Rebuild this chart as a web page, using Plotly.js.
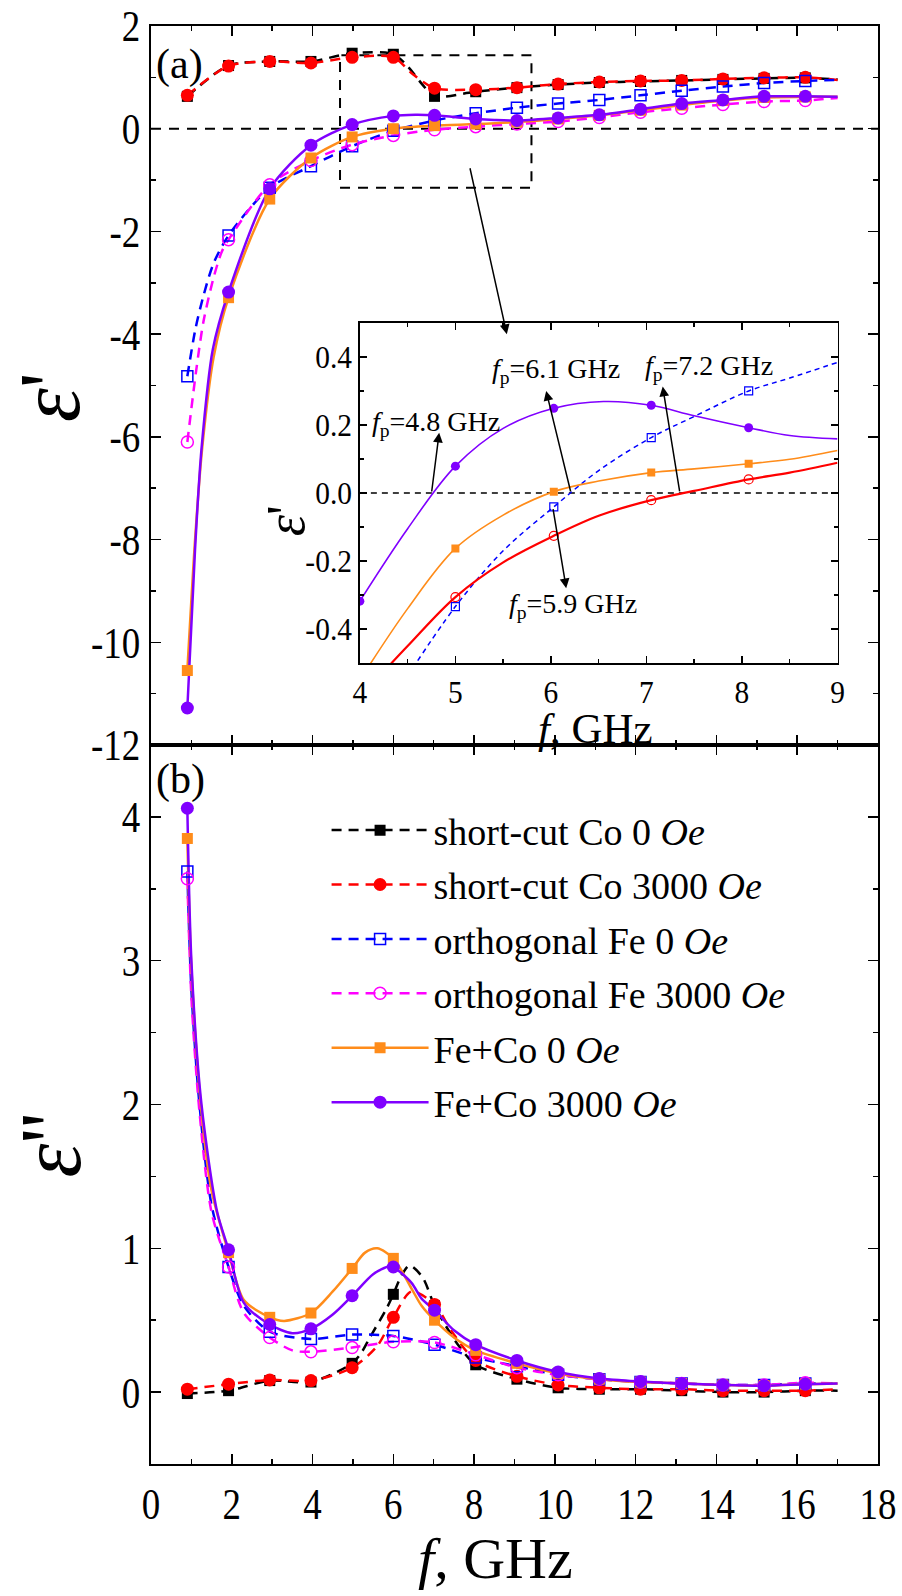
<!DOCTYPE html>
<html><head><meta charset="utf-8">
<script src="https://cdn.plot.ly/plotly-3.0.1.min.js"></script>
<style>html,body{margin:0;padding:0;background:#fff}</style>
</head><body>
<div id="chart" style="width:902px;height:1596px"></div>
<script>
// ---------- DATA ----------
const fMark = [0.9,1.92,2.94,3.96,4.98,6.0,7.02,8.04,9.06,10.08,11.1,12.12,13.14,14.16,15.18,16.2];

// (a) eps' marker values
const epsR_Co0    = [0.63,1.23,1.31,1.31,1.47,1.45,0.63,0.72,0.80,0.86,0.90,0.92,0.94,0.96,0.98,0.99];
const epsR_Co3000 = [0.65,1.22,1.31,1.28,1.39,1.39,0.79,0.76,0.80,0.87,0.91,0.93,0.94,0.97,0.99,1.00];
const epsR_Fe0    = [-4.82,-2.08,-1.15,-0.73,-0.34,-0.04,0.16,0.30,0.41,0.49,0.56,0.65,0.74,0.82,0.89,0.93];
const epsR_Fe3000 = [-6.10,-2.16,-1.09,-0.62,-0.31,-0.13,-0.02,0.04,0.09,0.14,0.22,0.32,0.40,0.47,0.53,0.55];
const epsR_FC0    = [-10.55,-3.29,-1.37,-0.57,-0.16,0.00,0.06,0.09,0.13,0.19,0.26,0.36,0.46,0.55,0.61,0.62];
const epsR_FC3000 = [-11.28,-3.18,-1.17,-0.32,0.08,0.25,0.26,0.19,0.16,0.21,0.27,0.38,0.49,0.56,0.63,0.63];

// (a) eps' curves
const cR_Co0_x    = [0.9,1.92,2.94,3.96,4.98,6.0,6.37,6.72,7.02,8.04,9.06,10.08,11.1,12.12,13.14,14.16,15.18,16.2,17.0];
const cR_Co0_y    = [0.63,1.23,1.31,1.31,1.47,1.45,1.20,0.86,0.63,0.72,0.80,0.86,0.90,0.92,0.94,0.96,0.98,0.99,0.96];
const cR_Co3000_x = [0.9,1.92,2.94,3.96,4.98,6.0,6.5,7.02,8.04,9.06,10.08,11.1,12.12,13.14,14.16,15.18,16.2,17.0];
const cR_Co3000_y = [0.65,1.22,1.31,1.28,1.39,1.39,1.05,0.79,0.76,0.80,0.87,0.91,0.93,0.94,0.97,0.99,1.00,0.95];
const cR_Fe0_x    = [0.9,1.1,1.3,1.55,1.92,2.94,3.96,4.98,6.0,7.02,8.04,9.06,10.08,11.1,12.12,13.14,14.16,15.18,16.2,17.0];
const cR_Fe0_y    = [-4.82,-3.9,-3.25,-2.62,-2.08,-1.15,-0.73,-0.34,-0.04,0.16,0.30,0.41,0.49,0.56,0.65,0.74,0.82,0.89,0.93,0.95];
const cR_Fe3000_x = [0.9,1.12,1.3,1.55,1.75,1.92,2.94,3.96,4.98,6.0,7.02,8.04,9.06,10.08,11.1,12.12,13.14,14.16,15.18,16.2,17.0];
const cR_Fe3000_y = [-6.10,-4.7,-3.75,-2.9,-2.4,-2.16,-1.09,-0.62,-0.31,-0.13,-0.02,0.04,0.09,0.14,0.22,0.32,0.40,0.47,0.53,0.55,0.60];
const cR_FC0_x    = [0.9,1.1,1.27,1.55,1.92,2.94,3.96,4.98,6.0,7.02,8.04,9.06,10.08,11.1,12.12,13.14,14.16,15.18,16.2,17.0];
const cR_FC0_y    = [-10.55,-7.9,-6.2,-4.45,-3.29,-1.37,-0.57,-0.16,0.00,0.06,0.09,0.13,0.19,0.26,0.36,0.46,0.55,0.61,0.62,0.62];
const cR_FC3000_x = [0.9,1.09,1.25,1.53,1.92,2.94,3.96,4.98,6.0,6.55,7.02,8.04,8.5,9.06,10.08,11.1,12.12,13.14,14.16,15.18,16.2,17.0];
const cR_FC3000_y = [-11.28,-8.2,-6.24,-4.3,-3.18,-1.17,-0.32,0.08,0.25,0.27,0.26,0.19,0.17,0.16,0.21,0.27,0.38,0.49,0.56,0.63,0.63,0.62];

// (b) eps'' marker values
const epsI_Co0    = [-0.01,0.01,0.08,0.07,0.20,0.68,0.60,0.19,0.09,0.03,0.02,0.02,0.01,0.00,0.00,0.01];
const epsI_Co3000 = [0.02,0.055,0.085,0.08,0.17,0.52,0.61,0.22,0.11,0.05,0.03,0.02,0.02,0.01,0.01,0.01];
const epsI_Fe0    = [3.62,0.87,0.42,0.37,0.40,0.39,0.33,0.24,0.18,0.12,0.09,0.07,0.06,0.05,0.05,0.06];
const epsI_Fe3000 = [3.57,0.87,0.38,0.28,0.31,0.35,0.345,0.26,0.17,0.12,0.09,0.07,0.06,0.05,0.05,0.065];
const epsI_FC0    = [3.85,0.97,0.52,0.55,0.86,0.93,0.50,0.29,0.20,0.13,0.09,0.07,0.06,0.05,0.045,0.055];
const epsI_FC3000 = [4.06,0.99,0.47,0.44,0.67,0.87,0.57,0.33,0.22,0.14,0.095,0.074,0.06,0.05,0.045,0.055];

// (b) eps'' curves
const cI_Co0_x    = [0.9,1.92,2.94,3.96,4.98,5.2,5.42,5.83,6.0,6.2,6.4,6.72,7.02,7.3,7.6,8.04,9.06,10.08,11.1,12.12,13.14,14.16,15.18,16.2,17.0];
const cI_Co0_y    = [-0.01,0.01,0.08,0.07,0.20,0.27,0.38,0.58,0.68,0.81,0.88,0.80,0.60,0.46,0.33,0.19,0.09,0.03,0.02,0.02,0.01,0.00,0.00,0.01,0.01];
const cI_Co3000_x = [0.9,1.92,2.94,3.96,4.98,5.6,6.0,6.45,7.02,7.45,8.04,9.06,10.08,11.1,12.12,13.14,14.16,15.18,16.2,17.0];
const cI_Co3000_y = [0.02,0.055,0.085,0.08,0.17,0.32,0.52,0.70,0.61,0.42,0.22,0.11,0.05,0.03,0.02,0.02,0.01,0.01,0.01,0.02];
const cI_Fe0_x    = [0.9,1.0,1.2,1.5,1.92,2.3,2.94,3.96,4.98,6.0,7.02,8.04,9.06,10.08,11.1,12.12,13.14,14.16,15.18,16.2,17.0];
const cI_Fe0_y    = [3.62,2.8,2.0,1.3,0.87,0.6,0.42,0.37,0.40,0.39,0.33,0.24,0.18,0.12,0.09,0.07,0.06,0.05,0.05,0.06,0.06];
const cI_Fe3000_x = [0.9,1.0,1.2,1.5,1.92,2.3,2.94,3.5,3.96,4.98,6.0,7.02,8.04,9.06,10.08,11.1,12.12,13.14,14.16,15.18,16.2,17.0];
const cI_Fe3000_y = [3.57,2.75,1.95,1.25,0.87,0.55,0.38,0.29,0.28,0.31,0.35,0.345,0.26,0.17,0.12,0.09,0.07,0.06,0.05,0.05,0.065,0.06];
const cI_FC0_x    = [0.9,1.0,1.25,1.5,1.92,2.3,2.94,3.3,3.96,4.5,4.98,5.3,5.6,6.0,6.45,6.7,7.02,7.5,8.04,9.06,10.08,11.1,12.12,13.14,14.16,15.18,16.2,17.0];
const cI_FC0_y    = [3.85,2.95,1.95,1.4,0.97,0.64,0.52,0.495,0.55,0.70,0.86,0.97,1.0,0.93,0.72,0.60,0.50,0.38,0.29,0.20,0.13,0.09,0.07,0.06,0.05,0.045,0.055,0.06];
const cI_FC3000_x = [0.9,1.0,1.25,1.64,1.92,2.3,2.94,3.5,3.96,4.5,4.98,5.5,5.9,6.0,6.45,6.7,7.02,7.5,8.04,9.06,10.08,11.1,12.12,13.14,14.16,15.18,16.2,17.0];
const cI_FC3000_y = [4.06,3.0,2.0,1.25,0.99,0.62,0.47,0.41,0.44,0.54,0.67,0.82,0.875,0.87,0.76,0.65,0.57,0.43,0.33,0.22,0.14,0.095,0.074,0.06,0.05,0.045,0.055,0.06];

// inset (eps', 4-9 GHz)
const inMarkX = [5.0,6.03,7.05,8.07];
const inPurpleMarkX = [4.0,5.0,6.03,7.05,8.07];
const inPurpleMark = [-0.318,0.079,0.249,0.258,0.192];
const inOrangeMark = [-0.163,0.004,0.06,0.086];
const inBlueMark   = [-0.334,-0.041,0.163,0.30];
const inRedMark    = [-0.306,-0.126,-0.021,0.04];
const inPurple_x = [4.0,4.5,5.0,5.5,6.03,6.55,7.05,7.5,8.07,8.5,9.0];
const inPurple_y = [-0.318,-0.105,0.079,0.19,0.249,0.269,0.258,0.227,0.192,0.169,0.159];
const inOrange_x = [4.0,4.5,5.0,5.5,6.03,6.5,7.05,7.5,8.07,8.5,9.0];
const inOrange_y = [-0.55,-0.34,-0.163,-0.065,0.004,0.035,0.06,0.071,0.086,0.099,0.125];
const inBlue_x   = [4.45,5.0,5.5,6.03,6.5,7.05,7.5,8.07,8.5,9.0];
const inBlue_y   = [-0.56,-0.334,-0.17,-0.041,0.066,0.163,0.225,0.30,0.338,0.384];
const inRed_x    = [4.2,4.5,5.0,5.5,6.03,6.5,7.05,7.5,8.07,8.5,9.0];
const inRed_y    = [-0.54,-0.45,-0.306,-0.204,-0.126,-0.067,-0.021,0.006,0.04,0.06,0.089];

// tick labels
const xTickVals = [0,2,4,6,8,10,12,14,16,18];
const xTickText = ['0','2','4','6','8','10','12','14','16','18'];
const yTopTickVals = [2,0,-2,-4,-6,-8,-10,-12];
const yTopTickText = ['2','0','-2','-4','-6','-8','-10','-12'];
const yBotTickVals = [0,1,2,3,4];
const yBotTickText = ['0','1','2','3','4'];
const inXTickVals = [4,5,6,7,8,9];
const inXTickText = ['4','5','6','7','8','9'];
const inYTickVals = [-0.4,-0.2,0,0.2,0.4];
const inYTickText = ['-0.4','-0.2','0.0','0.2','0.4'];

const seriesNames = ['short-cut Co 0 <i>Oe</i>','short-cut Co 3000 <i>Oe</i>','orthogonal Fe 0 <i>Oe</i>',
                     'orthogonal Fe 3000 <i>Oe</i>','Fe+Co 0 <i>Oe</i>','Fe+Co 3000 <i>Oe</i>'];

// ---------- STYLE ----------
const F = 'Liberation Serif';
const DASH = '10px,7px';
const styles = [
  {color:'#000000', dash:DASH, symbol:'square', size:11},
  {color:'#ff0000', dash:DASH, symbol:'circle', size:13},
  {color:'#0000ff', dash:DASH, symbol:'square-open', size:11},
  {color:'#ff00ff', dash:DASH, symbol:'circle-open', size:12},
  {color:'#ff8c1a', dash:'solid', symbol:'square', size:11},
  {color:'#8000ff', dash:'solid', symbol:'circle', size:13}
];

const topCurves = [[cR_Co0_x,cR_Co0_y],[cR_Co3000_x,cR_Co3000_y],[cR_Fe0_x,cR_Fe0_y],[cR_Fe3000_x,cR_Fe3000_y],[cR_FC0_x,cR_FC0_y],[cR_FC3000_x,cR_FC3000_y]];
const topMarks = [epsR_Co0,epsR_Co3000,epsR_Fe0,epsR_Fe3000,epsR_FC0,epsR_FC3000];
const botCurves = [[cI_Co0_x,cI_Co0_y],[cI_Co3000_x,cI_Co3000_y],[cI_Fe0_x,cI_Fe0_y],[cI_Fe3000_x,cI_Fe3000_y],[cI_FC0_x,cI_FC0_y],[cI_FC3000_x,cI_FC3000_y]];
const botMarks = [epsI_Co0,epsI_Co3000,epsI_Fe0,epsI_Fe3000,epsI_FC0,epsI_FC3000];

function markerOf(s){
  const open = s.symbol.indexOf('open')>=0;
  return {symbol:s.symbol, size:s.size, color: s.color, line:{color:s.color, width: open?1.5:0}};
}

const traces = [];
for (let i=0;i<6;i++){
  const s = styles[i];
  traces.push({x:topCurves[i][0], y:topCurves[i][1], xaxis:'x2', yaxis:'y', mode:'lines', showlegend:false,
    line:{color:s.color, width:2.5, dash:s.dash, shape:'spline', smoothing:0.8}, hoverinfo:'skip'});
  traces.push({x:botCurves[i][0], y:botCurves[i][1], xaxis:'x', yaxis:'y2', mode:'lines', showlegend:false,
    line:{color:s.color, width:2.5, dash:s.dash, shape:'spline', smoothing:0.8}, hoverinfo:'skip'});
}
for (let i=0;i<6;i++){
  const s = styles[i];
  traces.push({x:fMark, y:topMarks[i], xaxis:'x2', yaxis:'y', mode:'markers', showlegend:false, marker:markerOf(s), cliponaxis:false});
  traces.push({x:fMark, y:botMarks[i], xaxis:'x', yaxis:'y2', mode:'markers', showlegend:false, marker:markerOf(s), cliponaxis:false});
}
// legend entries
for (let i=0;i<6;i++){
  const s = styles[i];
  traces.push({x:[null], y:[null], xaxis:'x', yaxis:'y2', mode:'lines+markers', name:seriesNames[i], legendgroup:'g'+i,
    line:{color:s.color, width:2.5, dash:s.dash}, marker:markerOf(s)});
}
// inset
const inCurves = [
  {x:inBlue_x, y:inBlue_y, c:'#0000ff', w:1.5, dash:'5px,4px'},
  {x:inRed_x, y:inRed_y, c:'#ff0000', w:2.2, dash:'solid'},
  {x:inOrange_x, y:inOrange_y, c:'#ff8c1a', w:1.6, dash:'solid'},
  {x:inPurple_x, y:inPurple_y, c:'#8000ff', w:1.6, dash:'solid'}
];
inCurves.forEach(c=>traces.push({x:c.x, y:c.y, xaxis:'x3', yaxis:'y3', mode:'lines', showlegend:false,
  line:{color:c.c, width:c.w, dash:c.dash, shape:'spline', smoothing:1.0}}));
traces.push({x:inMarkX, y:inBlueMark, xaxis:'x3', yaxis:'y3', mode:'markers', showlegend:false,
  marker:{symbol:'square-open', size:8, color:'#0000ff', line:{color:'#0000ff', width:1.2}}});
traces.push({x:inMarkX, y:inRedMark, xaxis:'x3', yaxis:'y3', mode:'markers', showlegend:false,
  marker:{symbol:'circle-open', size:9, color:'#ff0000', line:{color:'#ff0000', width:1.2}}});
traces.push({x:inMarkX, y:inOrangeMark, xaxis:'x3', yaxis:'y3', mode:'markers', showlegend:false,
  marker:{symbol:'square', size:8, color:'#ff8c1a'}});
traces.push({x:inPurpleMarkX, y:inPurpleMark, xaxis:'x3', yaxis:'y3', mode:'markers', showlegend:false,
  marker:{symbol:'circle', size:9, color:'#8000ff'}});

function ax(extra){
  return Object.assign({showline:true, linecolor:'black', linewidth:2, mirror:'ticks', ticks:'inside',
    ticklen:10, tickwidth:1.5, tickcolor:'black', showgrid:false, zeroline:false, tickmode:'array',
    tickfont:{family:F, size:44, color:'black'}}, extra);
}
function minor(d, len){ return {tickmode:'linear', tick0:0, dtick:d, ticks:'inside', ticklen:len||5, tickwidth:1.5, tickcolor:'black', showgrid:false}; }

const annFont = {family:F, size:28, color:'black'};
function arrow(xh,yh,xt,yt,xr,yr){
  return {x:xh, y:yh, ax:xt, ay:yt, xref:xr, yref:yr, axref:xr, ayref:yr, text:'', showarrow:true,
    arrowhead:2, arrowsize:1.3, arrowwidth:1.5, arrowcolor:'black', standoff:0, startstandoff:0};
}

const layout = {
  width:902, height:1596,
  margin:{l:151, r:24, t:26, b:132},
  paper_bgcolor:'white', plot_bgcolor:'white',
  font:{family:F, color:'black'},
  showlegend:true,
  legend:{x:0.2415, y:0.4625, xanchor:'left', yanchor:'top', bgcolor:'rgba(0,0,0,0)',
    font:{family:F, size:38, color:'black'}, itemwidth:97, traceorder:'grouped', tracegroupgap:2},
  xaxis: ax({domain:[0,1], anchor:'y2', range:[0,18], tickvals:xTickVals, ticktext:xTickText, minor:minor(1)}),
  xaxis2: ax({domain:[0,1], anchor:'y', range:[0,18], tickvals:xTickVals, showticklabels:false, minor:minor(1)}),
  yaxis: ax({domain:[0.5,1], anchor:'x2', range:[-12,2], tickvals:yTopTickVals, ticktext:yTopTickText, minor:minor(1)}),
  yaxis2: ax({domain:[0,0.5], anchor:'x', range:[-0.5,4.5], tickvals:yBotTickVals, ticktext:yBotTickText, minor:minor(0.5)}),
  xaxis3: ax({domain:[0.2873,0.9443], anchor:'y3', range:[4,9], tickvals:inXTickVals, ticktext:inXTickText,
    linewidth:1.5, ticklen:7, tickwidth:1.2, tickfont:{family:F, size:32, color:'black'}, minor:minor(0.5,4)}),
  yaxis3: ax({domain:[0.5570,0.7935], anchor:'x3', range:[-0.5,0.5], tickvals:inYTickVals, ticktext:inYTickText,
    linewidth:1.5, ticklen:7, tickwidth:1.2, tickfont:{family:F, size:32, color:'black'}, minor:minor(0.1,4)}),
  shapes:[
    {type:'line', xref:'x2', yref:'y', x0:0, x1:18, y0:0, y1:0, layer:'below', line:{color:'black', width:2, dash:'10px,8px'}},
    {type:'rect', xref:'x2', yref:'y', x0:4.68, x1:9.42, y0:-1.15, y1:1.43, layer:'below', line:{color:'black', width:2, dash:'10px,8px'}},
    {type:'line', xref:'x3', yref:'y3', x0:4, x1:9, y0:0, y1:0, layer:'below', line:{color:'black', width:1.5, dash:'6px,5px'}}
  ],
  annotations:[
    {text:'(a)', xref:'paper', yref:'paper', x:0.004, y:0.991, xanchor:'left', yanchor:'top', showarrow:false, font:{family:F, size:42}},
    {text:'(b)', xref:'paper', yref:'paper', x:0.004, y:0.494, xanchor:'left', yanchor:'top', showarrow:false, font:{family:F, size:42}},
    {text:'<i>f</i>, GHz', xref:'paper', yref:'paper', x:0.474, y:-0.0655, xanchor:'center', yanchor:'middle', showarrow:false, font:{family:F, size:58}},
    {text:"<i>ε</i>'", xref:'paper', yref:'paper', x:-0.139, y:0.742, xanchor:'center', yanchor:'middle', textangle:-90, showarrow:false, font:{family:F, size:86}},
    {text:"<i>ε</i>''", xref:'paper', yref:'paper', x:-0.138, y:0.222, xanchor:'center', yanchor:'middle', textangle:-90, showarrow:false, font:{family:F, size:86}},
    {text:'<i>f</i>, GHz', xref:'paper', yref:'paper', x:0.612, y:0.5115, xanchor:'center', yanchor:'middle', showarrow:false, font:{family:F, size:43}},
    {text:"<i>ε</i>'", xref:'paper', yref:'paper', x:0.186, y:0.6558, xanchor:'center', yanchor:'middle', textangle:-90, showarrow:false, font:{family:F, size:54}},
    {text:'<i>f</i><sub>p</sub>=4.8 GHz', xref:'x3', yref:'y3', x:4.8, y:0.205, xanchor:'center', yanchor:'middle', showarrow:false, font:annFont},
    {text:'<i>f</i><sub>p</sub>=6.1 GHz', xref:'x3', yref:'y3', x:6.05, y:0.36, xanchor:'center', yanchor:'middle', showarrow:false, font:annFont},
    {text:'<i>f</i><sub>p</sub>=7.2 GHz', xref:'x3', yref:'y3', x:7.65, y:0.37, xanchor:'center', yanchor:'middle', showarrow:false, font:annFont},
    {text:'<i>f</i><sub>p</sub>=5.9 GHz', xref:'x3', yref:'y3', x:6.23, y:-0.33, xanchor:'center', yanchor:'middle', showarrow:false, font:annFont},
    arrow(4.83,0.177,4.75,0.0,'x3','y3'),
    arrow(5.95,0.30,6.21,0.0,'x3','y3'),
    arrow(7.17,0.313,7.35,0.0,'x3','y3'),
    arrow(6.16,-0.28,6.02,-0.043,'x3','y3'),
    arrow(8.81,-4.0,7.89,-0.74,'x2','y')
  ]
};

// horizontal condensing of tick text (the reference glyphs are narrow)
function condense(selector, k){
  document.querySelectorAll(selector).forEach(t=>{
    const bb = t.getBBox();
    const anc = t.getAttribute('text-anchor') || 'start';
    const ax = anc==='middle' ? bb.x+bb.width/2 : (anc==='end' ? bb.x+bb.width : bb.x);
    const prev = t.getAttribute('transform') || '';
    t.setAttribute('transform', prev+' translate('+ax+',0) scale('+k+',1) translate('+(-ax)+',0)');
  });
}

Plotly.newPlot('chart', traces, layout, {staticPlot:true, displayModeBar:false}).then(()=>{
  condense('g.xtick text', 0.84);
  condense('g.ytick text', 0.84);
  condense('g.y2tick text', 0.84);
  condense('g.x3tick text', 0.92);
  condense('g.y3tick text', 0.92);
});
</script>
</body></html>
